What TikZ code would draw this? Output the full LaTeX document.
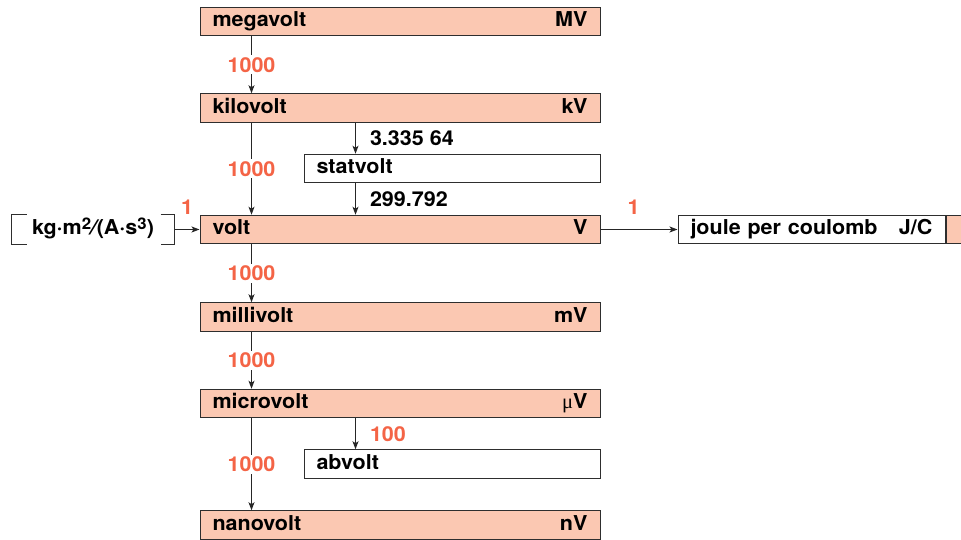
\documentclass[tikz,border=0pt]{standalone}
\usepackage{fontspec}
\setmainfont{TeX Gyre Heros}[FakeStretch=1.05]
\newfontfamily\greekfont{Liberation Serif}
\usetikzlibrary{arrows.meta,positioning}
\definecolor{salmon}{HTML}{FBC8B2}
\definecolor{factorred}{HTML}{F46446}
\definecolor{boxline}{HTML}{2E2E2E}
\definecolor{arrowgray}{HTML}{262626}
\newcommand{\boxfont}{\fontsize{20.5}{24}\selectfont\bfseries}
\newcommand{\supnum}[1]{\raisebox{5.5pt}{\fontsize{16}{16}\selectfont #1}}
\tikzset{
  unitbox/.style={
    rectangle, draw=boxline, fill=#1, line width=1pt,
    minimum height=28.5pt, text height=15pt, text depth=4pt,
    inner xsep=12.5pt, inner ysep=0pt, font=\boxfont
  },
  unitbox/.default=salmon,
  mainbox/.style={unitbox=salmon, text width=375pt},
  sidebox/.style={unitbox=white, text width=271pt},
  convarrow/.style={
    -{Stealth[length=8pt,width=6pt,inset=2pt]}, line width=1pt, color=arrowgray
  },
  factor/.style={font=\boxfont, text=#1, fill=white, inner sep=2pt},
  factor/.default=factorred,
  bracketline/.style={draw=boxline, line width=1pt},
}

\begin{document}
\begin{tikzpicture}[x=1pt, y=1pt]
\useasboundingbox (0,0) rectangle (961,540);

% Main column: prefixed volts
\node[mainbox] (mega) at (400,518.5) {megavolt\hfill MV};
\node[mainbox, below=57pt of mega] (kilo) {kilovolt\hfill kV};
\node[mainbox, below=92pt of kilo] (volt) {volt\hfill V};
\node[mainbox, below=58pt of volt] (milli) {millivolt\hfill mV};
\node[mainbox, below=57pt of milli] (micro) {microvolt\hfill{\greekfont\mdseries μ}V};
\node[mainbox, below=92pt of micro] (nano) {nanovolt\hfill nV};

% Side column: cgs units
\node[sidebox, below=31pt of kilo.south east, anchor=north east] (stat) {statvolt};
\node[sidebox, below=31pt of micro.south east, anchor=north east] (ab) {abvolt};

% Equivalent units on the volt row
\node[unitbox=white, draw=none, minimum width=162pt, left=25pt of volt] (si) {kg·m\supnum{2}\kern1pt⁄\kern1pt(A·s\supnum{3})};
\draw[bracketline] ([xshift=15pt]si.north west) -- (si.north west) -- (si.south west) -- ([xshift=15pt]si.south west);
\draw[bracketline] ([xshift=-14pt]si.north east) -- (si.north east) -- (si.south east) -- ([xshift=-14pt]si.south east);
\node[unitbox=white, text width=242pt, right=77pt of volt] (jc) {joule per coulomb\hfill J/C\hspace*{4pt}};
\node[unitbox, minimum width=40pt, anchor=west] (jcrest) at (jc.east) {};

% Conversion arrows
\coordinate (statin) at ([xshift=52pt]stat.north west);
\coordinate (statout) at ([xshift=52pt]stat.south west);
\coordinate (abin) at ([xshift=52pt]ab.north west);

\draw[convarrow] ([xshift=52pt]mega.south west) -- ([xshift=52pt]kilo.north west) node[factor, midway] {1000};
\draw[convarrow] ([xshift=52pt]kilo.south west) -- ([xshift=52pt]volt.north west) node[factor, midway] {1000};
\draw[convarrow] (statin |- kilo.south) -- (statin) node[factor=black, midway, right=12pt] {3.335 64};
\draw[convarrow] (statout) -- (statout |- volt.north) node[factor=black, midway, right=12pt] {299.792};
\draw[convarrow] (si) -- (volt) node[factor, midway, above=12pt] {1};
\draw[convarrow] (volt) -- (jc) node[factor, pos=0.43, above=12pt] {1};
\draw[convarrow] ([xshift=52pt]volt.south west) -- ([xshift=52pt]milli.north west) node[factor, midway] {1000};
\draw[convarrow] ([xshift=52pt]milli.south west) -- ([xshift=52pt]micro.north west) node[factor, midway] {1000};
\draw[convarrow] (abin |- micro.south) -- (abin) node[factor, midway, right=12pt] {100};
\draw[convarrow] ([xshift=52pt]micro.south west) -- ([xshift=52pt]nano.north west) node[factor, midway] {1000};

\end{tikzpicture}
\end{document}
